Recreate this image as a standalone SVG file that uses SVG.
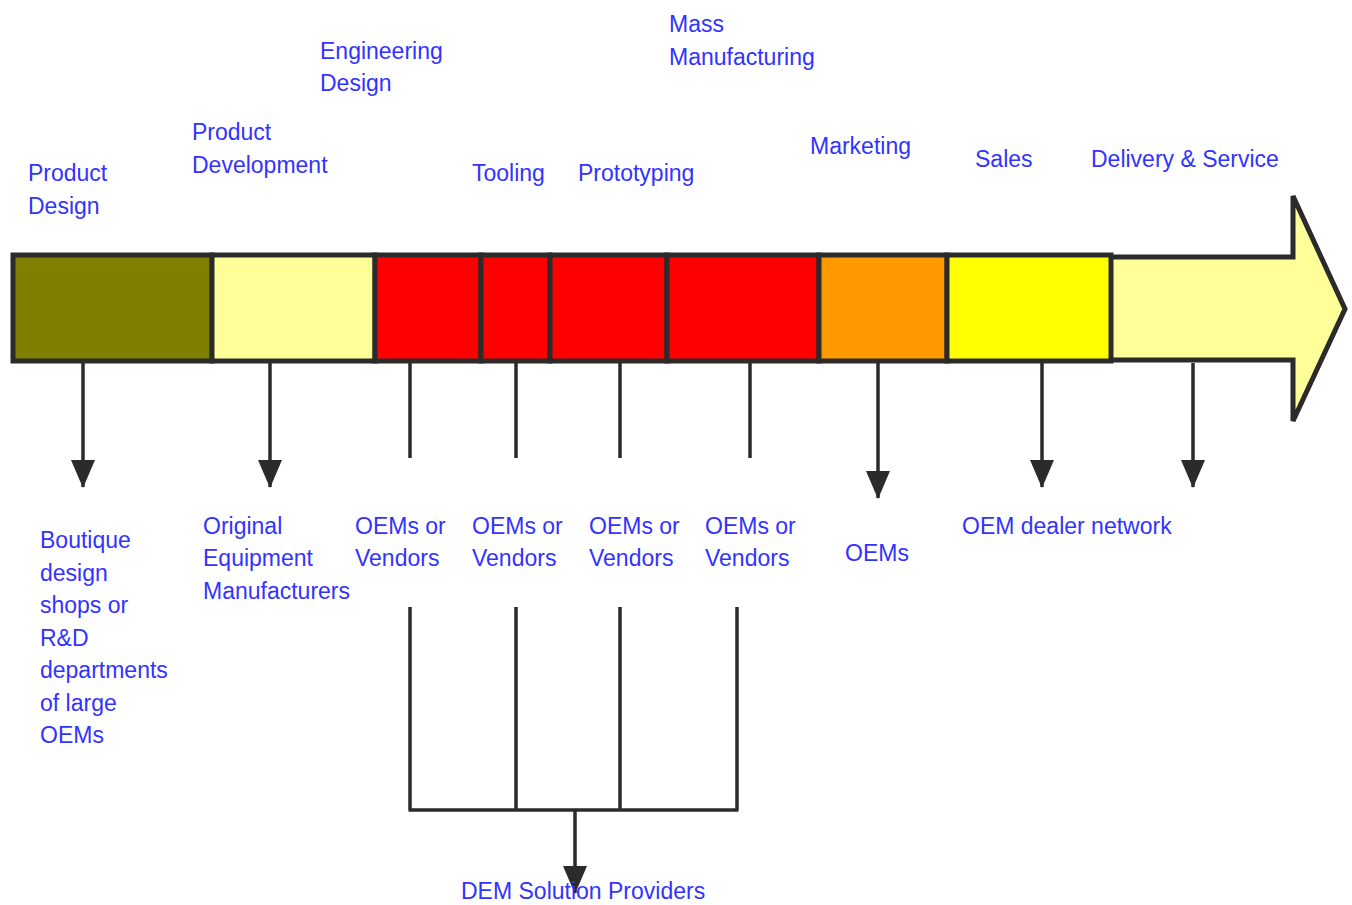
<svg xmlns="http://www.w3.org/2000/svg" width="1352" height="905" viewBox="0 0 1352 905">
<style>
.t{font-family:"Liberation Sans",Arial,sans-serif;font-size:23px;fill:#3333FF}
.seg{stroke:#2b2b2b;stroke-width:5}
.ln{stroke:#2b2b2b;stroke-width:3.5;fill:none}
</style>
<defs>
<marker id="ah" markerUnits="userSpaceOnUse" markerWidth="28" markerHeight="24" refX="27" refY="12" orient="auto" viewBox="0 0 28 24">
<path d="M0,0 L28,12 L0,24 Z" fill="#2b2b2b"/>
</marker>
</defs>
<rect width="1352" height="905" fill="#fff"/>
<g id="big-arrow">
<polygon points="1105,257 1293,257 1293,196 1345,309 1293,421 1293,360 1105,360" fill="#FFFF99" stroke="#2b2b2b" stroke-width="5" stroke-linejoin="miter"/>
</g>
<g id="bar">
<rect id="seg-product-design" class="seg" x="13" y="255" width="199" height="106" fill="#808000"/>
<rect id="seg-product-dev" class="seg" x="212" y="255" width="163" height="106" fill="#FFFF99"/>
<rect id="seg-eng" class="seg" x="375" y="255" width="106" height="106" fill="#FF0000"/>
<rect id="seg-tool" class="seg" x="481" y="255" width="69" height="106" fill="#FF0000"/>
<rect id="seg-proto" class="seg" x="550" y="255" width="117" height="106" fill="#FF0000"/>
<rect id="seg-mass" class="seg" x="667" y="255" width="152" height="106" fill="#FF0000"/>
<rect id="seg-marketing" class="seg" x="819" y="255" width="128" height="106" fill="#FF9900"/>
<rect id="seg-sales" class="seg" x="947" y="255" width="164" height="106" fill="#FFFF00"/>
</g>
<g id="connectors">
<path class="ln" d="M83,363 V487" marker-end="url(#ah)"/>
<path class="ln" d="M270,363 V487" marker-end="url(#ah)"/>
<path class="ln" d="M410,363 V458"/>
<path class="ln" d="M516,363 V458"/>
<path class="ln" d="M620,363 V458"/>
<path class="ln" d="M750,363 V458"/>
<path class="ln" d="M878,363 V498" marker-end="url(#ah)"/>
<path class="ln" d="M1042,363 V487" marker-end="url(#ah)"/>
<path class="ln" d="M1193,363 V487" marker-end="url(#ah)"/>
<path class="ln" d="M410,607 V810 M516,607 V810 M620,607 V810 M737,607 V810 M408.5,810 H738.5"/>
<path class="ln" d="M575,810 V893" marker-end="url(#ah)"/>
</g>
<g id="top-labels">
<text class="t" x="28" y="181">Product</text>
<text class="t" x="28" y="214">Design</text>
<text class="t" x="192" y="140">Product</text>
<text class="t" x="192" y="173">Development</text>
<text class="t" x="320" y="59">Engineering</text>
<text class="t" x="320" y="91">Design</text>
<text class="t" x="669" y="32">Mass</text>
<text class="t" x="669" y="65">Manufacturing</text>
<text class="t" x="472" y="181">Tooling</text>
<text class="t" x="578" y="181">Prototyping</text>
<text class="t" x="810" y="154">Marketing</text>
<text class="t" x="975" y="167">Sales</text>
<text class="t" x="1091" y="167">Delivery &amp; Service</text>
</g>
<g id="bottom-labels">
<text class="t" x="40" y="548">Boutique</text>
<text class="t" x="40" y="580.5">design</text>
<text class="t" x="40" y="613">shops or</text>
<text class="t" x="40" y="645.5">R&amp;D</text>
<text class="t" x="40" y="678">departments</text>
<text class="t" x="40" y="710.5">of large</text>
<text class="t" x="40" y="743">OEMs</text>
<text class="t" x="203" y="534">Original</text>
<text class="t" x="203" y="566">Equipment</text>
<text class="t" x="203" y="599">Manufacturers</text>
<text class="t" x="355" y="534">OEMs or</text>
<text class="t" x="355" y="566">Vendors</text>
<text class="t" x="472" y="534">OEMs or</text>
<text class="t" x="472" y="566">Vendors</text>
<text class="t" x="589" y="534">OEMs or</text>
<text class="t" x="589" y="566">Vendors</text>
<text class="t" x="705" y="534">OEMs or</text>
<text class="t" x="705" y="566">Vendors</text>
<text class="t" x="845" y="561">OEMs</text>
<text class="t" x="962" y="534">OEM dealer network</text>
<text class="t" x="461" y="899">DEM Solution Providers</text>
</g>
</svg>
